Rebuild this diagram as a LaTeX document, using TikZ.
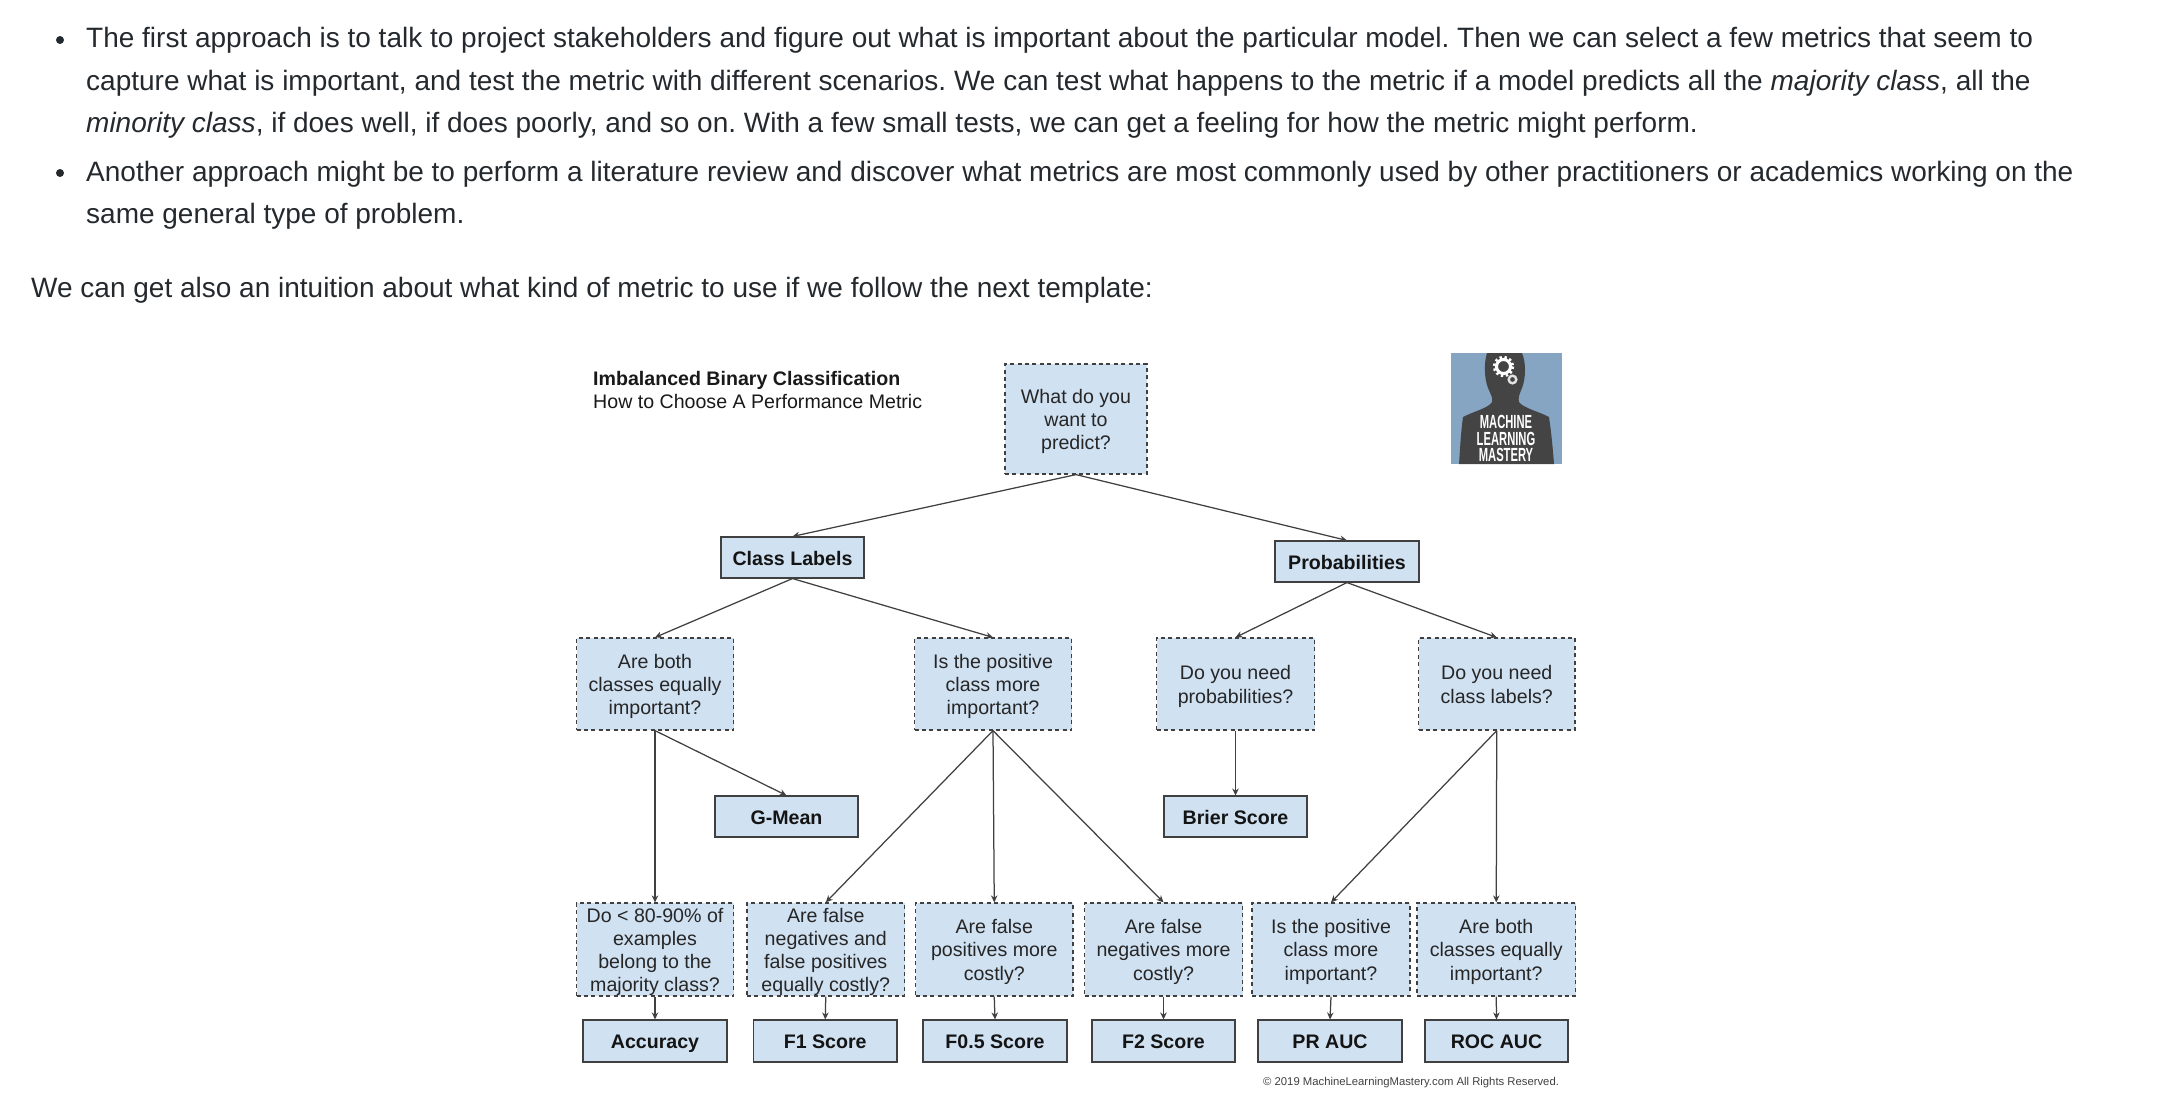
\documentclass[tikz,border=0pt]{standalone}
\usepackage{fontspec}
\setmainfont{Liberation Sans}
\usetikzlibrary{arrows.meta}
\definecolor{boxfill}{HTML}{D0E1F2}
\definecolor{bodyink}{HTML}{24292E}
\definecolor{lineink}{HTML}{404040}
\definecolor{logobg}{HTML}{85A5C3}
\definecolor{logoman}{HTML}{444444}
\newcommand{\logotext}[1]{\scalebox{0.59}[1]{\textbf{#1}}}
\frenchspacing
\tikzset{
  para/.style={anchor=base west,inner sep=0pt,text=bodyink,font=\frenchspacing\fontsize{28}{42}\selectfont},
  dotmark/.style={circle,fill=bodyink,draw=none,minimum size=8pt,inner sep=0pt},
  qbox/.style={draw=lineink,fill=boxfill,dash pattern=on 4pt off 3.4pt,line width=1.2pt,inner sep=0pt,align=center,text=black!85,font=\fontsize{19.6}{23.3}\selectfont},
  metric/.style={draw=lineink,fill=boxfill,line width=1.1pt,inner sep=0pt,align=center,text=black!92,text height=15pt,text depth=0pt,font=\bfseries\fontsize{19.6}{23.3}\selectfont},
  link/.style={draw=lineink,line width=1.25pt,-{Stealth[length=7pt,width=6.5pt]}},
  plain/.style={anchor=base west,inner sep=0pt,text=black!90,font=\fontsize{19.6}{23.3}\selectfont},
  logoword/.style={anchor=base,inner sep=0pt,text=white,font=\fontsize{19}{19}\selectfont}
}
\newcommand{\boxat}[7]{% style, name, x0, y0, x1, y1, text
  \node[#1,minimum width={(#5-#3)*1pt},minimum height={(#6-#4)*1pt}] (#2) at ({(#3+#5)/2},{(#4+#6)/2}) {#7};}
\newcommand{\qboxat}[6]{% name, x0, y0, x1, y1, text
  \boxat{qbox}{#1}{#2}{#3}{#4}{#5}{\rule{0pt}{19pt}#6\rule[-4pt]{0pt}{4pt}}}
\begin{document}
\begin{tikzpicture}[x=1pt,y=-1pt]
\useasboundingbox (0,0) rectangle (2174,1108);
% --- page text
\node[dotmark] (b1) at (60,40) {};
\node[dotmark] (b2) at (60,173) {};
\node[para] (l1) at (86,48) {The first approach is to talk to project stakeholders and figure out what is important about the particular model. Then we can select a few metrics that seem to};
\node[para] (l2) at (86,90) {capture what is important, and test the metric with different scenarios. We can test what happens to the metric if a model predicts all the \textit{majority class}, all the};
\node[para] (l3) at (86,132) {\textit{minority class}, if does well, if does poorly, and so on. With a few small tests, we can get a feeling for how the metric might perform.};
\node[para] (l4) at (86,181.5) {Another approach might be to perform a literature review and discover what metrics are most commonly used by other practitioners or academics working on the};
\node[para] (l5) at (86,223) {same general type of problem.};
\node[para] (l6) at (31,297) {We can get also an intuition about what kind of metric to use if we follow the next template:};
% --- title
\node[plain] (t1) at (593,385) {\textbf{Imbalanced Binary Classification}};
\node[plain] (t2) at (593,408) {How to Choose A Performance Metric};
% --- logo
\fill[logobg] (1451,353) rectangle (1562,464);
\fill[logoman] (1487,353) -- (1522,353) .. controls (1526,362) and (1526,378) .. (1522,388)
  .. controls (1519,395) and (1518,398) .. (1519,402)
  .. controls (1523,408) and (1540,412) .. (1549,417)
  .. controls (1551,430) and (1553,450) .. (1554,464) -- (1459,464)
  .. controls (1460,450) and (1461,430) .. (1463,417)
  .. controls (1472,412) and (1489,408) .. (1492,402)
  .. controls (1493,398) and (1491,395) .. (1488,388)
  .. controls (1484,378) and (1484,362) .. (1487,353) -- cycle;
\draw[white,line width=3pt] (1503.5,366.5) circle[radius=7];
\draw[white,line width=2.6pt,dash pattern=on 2.4pt off 2.6pt] (1503.5,366.5) circle[radius=9.4];
\draw[white!85!logoman,line width=2.4pt] (1512.5,379.5) circle[radius=3.8];
\node[logoword] (lg1) at (1506,428.5) {\logotext{MACHINE}};
\node[logoword] (lg2) at (1506,445) {\logotext{LEARNING}};
\node[logoword] (lg3) at (1506,461) {\logotext{MASTERY}};
% --- boxes
\qboxat{q0}{1005}{364}{1147}{474}{What do you\\want to\\predict?}
\boxat{metric}{cl}{721}{537}{864}{578}{Class Labels}
\boxat{metric}{pr}{1275}{541}{1419}{582}{Probabilities}
\qboxat{qa}{576.5}{638}{733.5}{730}{Are both\\classes equally\\important?}
\qboxat{qb}{914.5}{638}{1071.5}{730}{Is the positive\\class more\\important?}
\qboxat{qc}{1156.5}{638}{1314.5}{730}{Do you need\\probabilities?}
\qboxat{qd}{1418.5}{638}{1575}{730}{Do you need\\class labels?}
\boxat{metric}{gm}{715}{796}{858}{837}{G-Mean}
\boxat{metric}{br}{1164}{796}{1307}{837}{Brier Score}
\qboxat{r1}{576.5}{903}{733.5}{996}{Do < 80-90\% of\\examples\\belong to the\\majority class?}
\qboxat{r2}{747}{903}{904.5}{996}{Are false\\negatives and\\false positives\\equally costly?}
\qboxat{r3}{915.5}{903}{1073}{996}{Are false\\positives more\\costly?}
\qboxat{r4}{1084.5}{903}{1242.5}{996}{Are false\\negatives more\\costly?}
\qboxat{r5}{1252}{903}{1410}{996}{Is the positive\\class more\\important?}
\qboxat{r6}{1417}{903}{1575.5}{996}{Are both\\classes equally\\important?}
\boxat{metric}{m1}{583}{1020}{727}{1062}{Accuracy}
\boxat{metric}{m2}{753.5}{1020}{897}{1062}{F1 Score}
\boxat{metric}{m3}{923}{1020}{1067}{1062}{F0.5 Score}
\boxat{metric}{m4}{1092}{1020}{1235}{1062}{F2 Score}
\boxat{metric}{m5}{1258}{1020}{1402}{1062}{PR AUC}
\boxat{metric}{m6}{1425}{1020}{1568}{1062}{ROC AUC}
% --- connectors
\draw[link] (q0.south) -- (cl.north);
\draw[link] (q0.south) -- (pr.north);
\draw[link] (cl.south) -- (qa.north);
\draw[link] (cl.south) -- (qb.north);
\draw[link] (pr.south) -- (qc.north);
\draw[link] (pr.south) -- (qd.north);
\draw[link] (qa.south) -- (gm.north);
\draw[link] (qa.south) -- (r1.north);
\draw[link] (qb.south) -- (r2.north);
\draw[link] (qb.south) -- (r3.north);
\draw[link] (qb.south) -- (r4.north);
\draw[link] (qc.south) -- (br.north);
\draw[link] (qd.south) -- (r5.north);
\draw[link] (qd.south) -- (r6.north);
\draw[link] (r1.south) -- (m1.north);
\draw[link] (r2.south) -- (m2.north);
\draw[link] (r3.south) -- (m3.north);
\draw[link] (r4.south) -- (m4.north);
\draw[link] (r5.south) -- (m5.north);
\draw[link] (r6.south) -- (m6.north);
% --- credit
\node[plain,text=black!75,font=\fontsize{11.3}{13}\selectfont] (cr) at (1263,1085) {© 2019 MachineLearningMastery.com All Rights Reserved.};
\end{tikzpicture}
\end{document}
